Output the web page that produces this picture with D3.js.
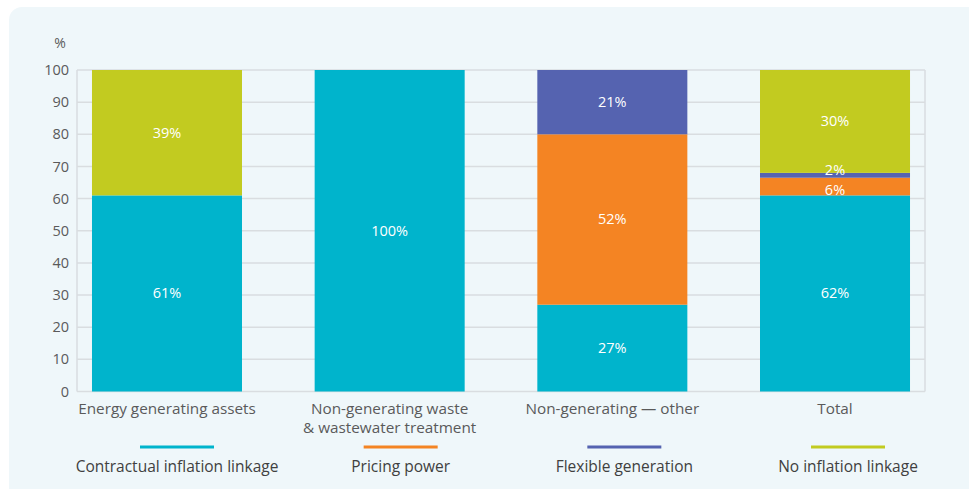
<!DOCTYPE html>
<html><head><meta charset="utf-8">
<script src="https://cdn.jsdelivr.net/npm/d3@7"></script>
<style>
body{margin:0;background:#fff;}
svg{display:block;font-family:"Open Sans",sans-serif;}
</style></head>
<body><svg id="c" width="969" height="489"></svg>
<script>
const categories = [["Energy generating assets"], ["Non-generating waste", "& wastewater treatment"], ["Non-generating \u2014 other"], ["Total"]];
const seriesNames = ["Contractual inflation linkage", "Pricing power", "Flexible generation", "No inflation linkage"];
const seriesColors = ["#00b4cc", "#f48423", "#5563b0", "#c2cb20"];
const contractual = [61, 100, 27, 61];
const pricing = [0, 0, 53, 5.5];
const flexible = [0, 0, 20, 1.5];
const noLinkage = [39, 0, 0, 32];
const contractualLabels = ["61%", "100%", "27%", "62%"];
const pricingLabels = ["", "", "52%", "6%"];
const flexibleLabels = ["", "", "21%", "2%"];
const noLinkageLabels = ["39%", "", "", "30%"];
const yTicks = [0,10,20,30,40,50,60,70,80,90,100];

const svg = d3.select("#c");
svg.append("rect").attr("x",9).attr("y",7).attr("width",980).attr("height",500).attr("rx",13).attr("fill","#eff7fa");

const L=77, R=925, T=70, B=391.5;
const x = d3.scaleBand().domain(d3.range(categories.length)).range([L,R]).paddingInner(0.3263).paddingOuter(0.0673);
const y = d3.scaleLinear().domain([0,100]).range([B,T]);

// grid
const g = svg.append("g");
g.selectAll("line.grid").data(yTicks).join("line")
  .attr("x1",L).attr("x2",R).attr("y1",d=>y(d)).attr("y2",d=>y(d))
  .attr("stroke","#d9dde0").attr("stroke-width",1.5);
g.append("line").attr("x1",L).attr("x2",L).attr("y1",T).attr("y2",B).attr("stroke","#d9dde0").attr("stroke-width",1.5);
g.append("line").attr("x1",R).attr("x2",R).attr("y1",T).attr("y2",B).attr("stroke","#d9dde0").attr("stroke-width",1.5);

// y axis labels
const yAxis = d3.axisLeft(y).tickValues(yTicks).tickSize(0).tickPadding(8);
const ya = svg.append("g").attr("transform",`translate(${L},0)`).call(yAxis);
ya.select(".domain").remove();
ya.selectAll("text").attr("font-size",14.5).attr("fill","#5a5a5a").attr("font-family","'Open Sans',sans-serif");
svg.append("text").attr("x",60).attr("y",48).attr("text-anchor","middle").attr("font-size",14).attr("fill","#5a5a5a").text("%");

// stack
const seriesLabels = [contractualLabels, pricingLabels, flexibleLabels, noLinkageLabels];
const rows = categories.map((c,i)=>({i, s0:contractual[i], s1:pricing[i], s2:flexible[i], s3:noLinkage[i]}));
const stack = d3.stack().keys(["s0","s1","s2","s3"])(rows);
stack.forEach((layer,k)=>{
  svg.append("g").selectAll("rect").data(layer).join("rect")
    .attr("x",d=>x(d.data.i)).attr("width",x.bandwidth())
    .attr("y",d=>y(d[1])).attr("height",d=>Math.max(0,y(d[0])-y(d[1])))
    .attr("fill",seriesColors[k]);
});
// labels
const labelOffset = {"2%":-5,"6%":3};
stack.forEach((layer,k)=>{
  svg.append("g").selectAll("text").data(layer.filter(d=>seriesLabels[k][d.data.i])).join("text")
    .attr("x",d=>x(d.data.i)+x.bandwidth()/2)
    .attr("y",d=>{const lab=seriesLabels[k][d.data.i];return (y(d[0])+y(d[1]))/2+5+(labelOffset[lab]||0);})
    .attr("text-anchor","middle").attr("font-size",14.5).attr("fill","#ffffff")
    .text(d=>seriesLabels[k][d.data.i]);
});

// category labels
categories.forEach((lines,i)=>{
  const t = svg.append("text").attr("x",x(i)+x.bandwidth()/2).attr("y",414).attr("text-anchor","middle")
    .attr("font-size",15.3).attr("fill","#5a5a5a");
  lines.forEach((ln,j)=>t.append("tspan").attr("x",x(i)+x.bandwidth()/2).attr("dy",j?18.5:0).text(ln));
});

// legend
const lx = d3.scalePoint().domain(seriesNames).range([177,848]);
const lg = svg.append("g");
seriesNames.forEach((n,k)=>{
  lg.append("line").attr("x1",lx(n)-37).attr("x2",lx(n)+37).attr("y1",447).attr("y2",447)
    .attr("stroke",seriesColors[k]).attr("stroke-width",3);
  lg.append("text").attr("x",lx(n)).attr("y",472).attr("text-anchor","middle")
    .attr("font-size",15.5).attr("font-weight",500).attr("fill","#404040").text(n);
});
</script></body></html>
